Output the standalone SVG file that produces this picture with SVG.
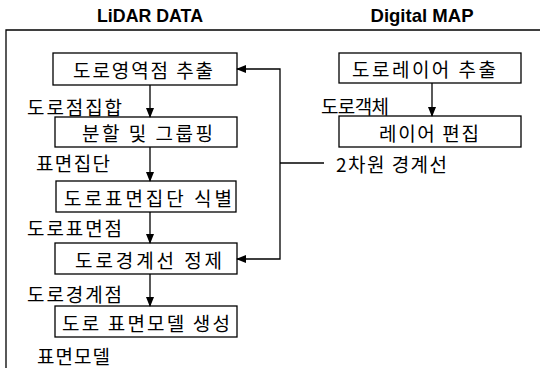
<svg xmlns="http://www.w3.org/2000/svg" width="548" height="368" viewBox="0 0 548 368">
<style>
.bg{fill:#fff}
.box{fill:#fff;stroke:#000;stroke-width:1.3}
.t{font-family:"Noto Sans CJK KR","Noto Sans",sans-serif;font-size:19px;fill:#000;dominant-baseline:central}
.h{font-family:"Liberation Sans","DejaVu Sans",sans-serif;font-size:19px;font-weight:bold;fill:#000;dominant-baseline:central}
.ln{fill:none;stroke:#000;stroke-width:1.3}
</style>
<defs>
<marker id="ah" markerWidth="10" markerHeight="8" refX="9" refY="4" orient="auto" markerUnits="userSpaceOnUse">
<path d="M0,0 L10,4 L0,8 Z" fill="#000"/>
</marker>
</defs>
<rect class="bg" x="0" y="0" width="548" height="368"/>
<g id="frame">
<text class="h" x="150" y="15" text-anchor="middle" textLength="106" lengthAdjust="spacingAndGlyphs">LiDAR DATA</text>
<text class="h" x="422" y="15" text-anchor="middle" textLength="103" lengthAdjust="spacingAndGlyphs">Digital MAP</text>
<path class="ln" d="M540,30 H6 V368"/>
</g>
<g id="n1"><rect class="box" x="53" y="53" width="184" height="32"/><text class="t" x="73" y="69" textLength="140" lengthAdjust="spacing">도로영역점 추출</text></g>
<g id="n2"><rect class="box" x="55" y="117" width="182" height="30"/><text class="t" x="82" y="132" textLength="131" lengthAdjust="spacing">분할 및 그룹핑</text></g>
<g id="n3"><rect class="box" x="56" y="181" width="180" height="31"/><text class="t" x="64" y="197" textLength="168" lengthAdjust="spacing">도로표면집단 식별</text></g>
<g id="n4"><rect class="box" x="55" y="243" width="182" height="31"/><text class="t" x="75" y="259" textLength="147" lengthAdjust="spacing">도로경계선 정제</text></g>
<g id="n5"><rect class="box" x="55" y="306" width="182" height="31"/><text class="t" x="62" y="322" textLength="168" lengthAdjust="spacing">도로 표면모델 생성</text></g>
<g id="m1"><rect class="box" x="339" y="53" width="182" height="30"/><text class="t" x="352" y="68" textLength="144" lengthAdjust="spacing">도로레이어 추출</text></g>
<g id="m2"><rect class="box" x="339" y="116" width="182" height="31"/><text class="t" x="379" y="132" textLength="100" lengthAdjust="spacing">레이어 편집</text></g>
<g id="labels">
<text class="t" x="27" y="106" textLength="95" lengthAdjust="spacing">도로점집합</text>
<text class="t" x="36" y="162" textLength="74" lengthAdjust="spacing">표면집단</text>
<text class="t" x="27" y="227" textLength="95" lengthAdjust="spacing">도로표면점</text>
<text class="t" x="27" y="293" textLength="95" lengthAdjust="spacing">도로경계점</text>
<text class="t" x="37" y="355" textLength="73" lengthAdjust="spacing">표면모델</text>
<text class="t" x="321" y="105" textLength="68" lengthAdjust="spacing">도로객체</text>
<text class="t" x="336" y="163" textLength="111" lengthAdjust="spacing">2차원 경계선</text>
</g>
<g id="connectors">
<line class="ln" x1="150" y1="85" x2="150" y2="117" marker-end="url(#ah)"/>
<line class="ln" x1="150" y1="147" x2="150" y2="181" marker-end="url(#ah)"/>
<line class="ln" x1="150" y1="212" x2="150" y2="243" marker-end="url(#ah)"/>
<line class="ln" x1="150" y1="274" x2="150" y2="306" marker-end="url(#ah)"/>
<line class="ln" x1="432" y1="83" x2="432" y2="116" marker-end="url(#ah)"/>
<path class="ln" d="M324,163 H280"/>
<path class="ln" d="M280,163 V69 H237" marker-end="url(#ah)"/>
<path class="ln" d="M280,163 V259 H237" marker-end="url(#ah)"/>
</g>
</svg>
